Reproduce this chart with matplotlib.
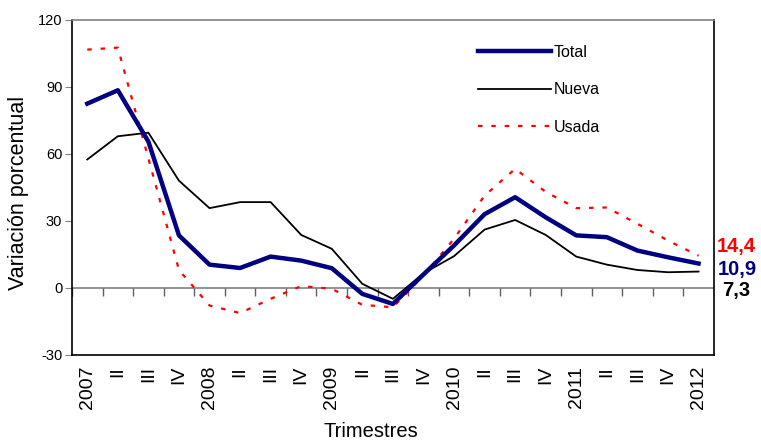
import numpy as np
import matplotlib.pyplot as plt

plt.rcParams['font.family'] = ['Liberation Sans', 'DejaVu Sans']
plt.rcParams['axes.unicode_minus'] = False

# quarters 2007 I .. 2012 I
quarters = ["2007", "II", "III", "IV",
            "2008", "II", "III", "IV",
            "2009", "II", "III", "IV",
            "2010", "II", "III", "IV",
            "2011", "II", "III", "IV",
            "2012"]

total = [82.5, 88.5, 65.5, 23.5, 10.4, 8.9, 14.0, 12.2, 8.8, -2.7, -7.2,
         6.0, 19.0, 33.0, 40.6, 31.6, 23.5, 22.7, 16.7, 13.7, 10.9]
nueva = [57.5, 67.9, 69.5, 48.0, 35.7, 38.4, 38.4, 23.7, 17.5, 1.8, -4.9,
         6.5, 14.2, 26.1, 30.4, 23.7, 14.0, 10.4, 8.0, 7.0, 7.3]
usada = [106.7, 107.6, 58.0, 8.0, -7.9, -11.3, -4.9, 0.8, -0.4, -7.6, -8.7,
         5.5, 22.0, 41.3, 53.3, 43.0, 35.7, 36.0, 28.7, 21.2, 14.4]

end_labels = ["14,4", "10,9", "7,3"]

fig = plt.figure(figsize=(7.61, 4.43), dpi=100)
ax = fig.add_axes([0.0946, 0.199, 0.8434, 0.756])

x = np.arange(len(quarters))
ax.plot(x, total, color='#000080', lw=3.2, label='Total', zorder=4)
ax.plot(x, nueva, color='black', lw=1.3, label='Nueva', zorder=3)
ax.plot(x, usada, color='red', lw=1.6, ls=(0, (2, 4)), label='Usada', zorder=3)

# zero line with category separators
ax.axhline(0, color='#808080', lw=1.2, zorder=1)
ax.vlines(np.arange(len(quarters) + 1) - 0.5, -3.5, 0, color='#606060', lw=1, zorder=1)

ax.set_xlim(-0.5, len(quarters) - 0.5)
ax.set_ylim(-30, 120)
ax.set_yticks(np.arange(-30, 121, 30))
ax.set_xticks(x)
ax.set_xticklabels(quarters, rotation=90, fontsize=14)
ax.tick_params(axis='x', length=0, pad=8)
ax.tick_params(axis='y', labelsize=10.5, length=5, color='#808080', pad=2)

for s in ['left', 'right', 'bottom']:
    ax.spines[s].set_color('black')
    ax.spines[s].set_linewidth(1.2)
ax.spines['top'].set_color('#808080')
ax.spines['top'].set_linewidth(1.2)

fig.text(0.024, 0.565, 'Variación porcentual', rotation=90, ha='center',
         va='center', fontsize=15.5)
fig.text(0.488, 0.004, 'Trimestres', ha='center', va='bottom', fontsize=14.5)

leg = ax.legend(loc='upper left', bbox_to_anchor=(0.61, 0.968), frameon=False,
                fontsize=11.5, handlelength=4.6, handletextpad=0.15,
                labelspacing=1.4)

# end values
ends = [(usada[-1], 'red', 13, 6.5), (total[-1], '#000080', 14, -4.3),
        (nueva[-1], 'black', 17, -13.7)]
for (val, col, dx, dy), txt in zip(ends, end_labels):
    ax.annotate(txt, xy=(x[-1], val), xytext=(dx, dy), textcoords='offset points',
                color=col, fontsize=14.5, fontweight='bold', va='center',
                ha='left', annotation_clip=False)

fig.savefig('out.png', dpi=100)
